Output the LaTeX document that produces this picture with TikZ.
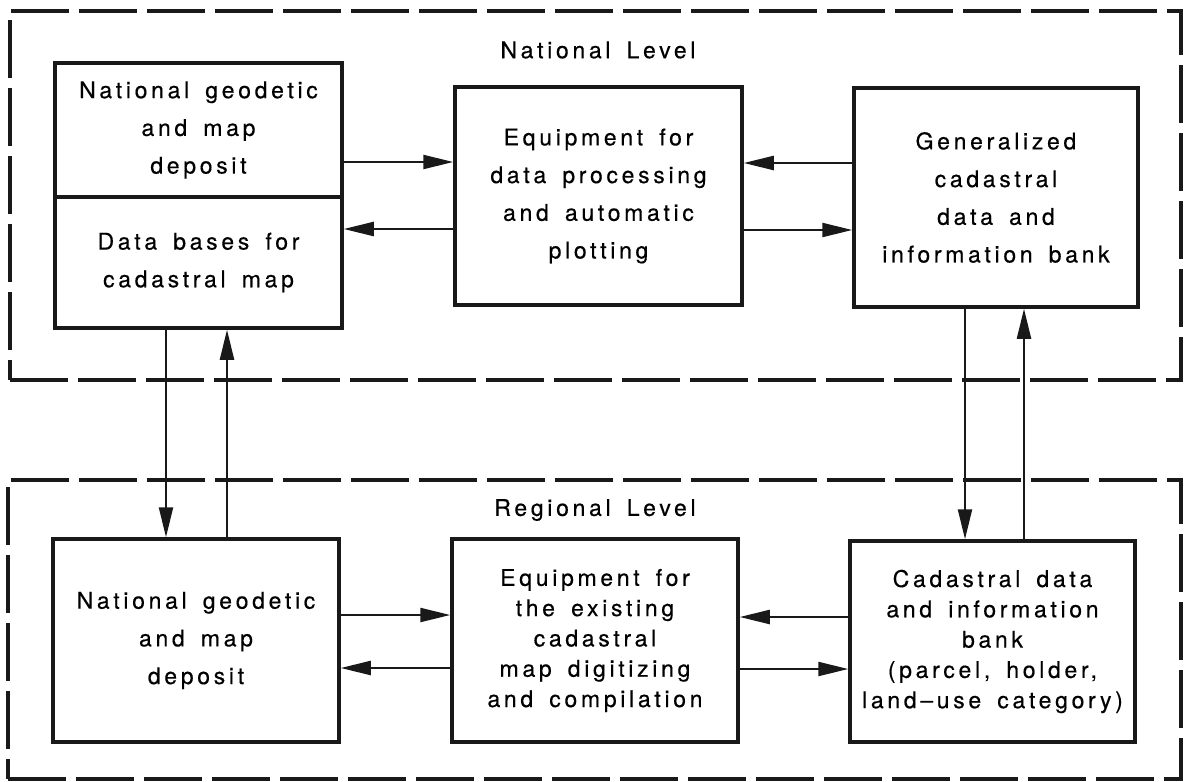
\documentclass[tikz,border=0pt]{standalone}
\usepackage{fontspec}
\usetikzlibrary{arrows.meta}
\newfontfamily\hv[LetterSpace=16, WordSpace=1.6, FakeBold=0.4]{TeX Gyre Heros}
\tikzset{
  frame/.style={draw=black!90, line width=3.5pt, dash pattern=on 58pt off 10pt, inner sep=0pt},
  box/.style={draw=black!90, line width=3.5pt, inner sep=0pt, align=center,
              font=\hv\fontsize{23}{37.7}\selectfont},
  tightbox/.style={box, font=\hv\fontsize{23}{30.3}\selectfont},
  title/.style={font=\hv\fontsize{23}{30}\selectfont, inner sep=0pt},
  arr/.style={draw=black!90, line width=2.2pt, -{Triangle[length=30pt,width=14pt]}}
}
\begin{document}
\begin{tikzpicture}[x=1pt,y=-1pt]
\useasboundingbox[fill=white] (0,0) rectangle (1187,782);
% frames
\node[frame, minimum width=1171pt, minimum height=369pt] (natFrame) at (595.5,195.5) {};
\node[frame, minimum width=1173pt, minimum height=299pt] (regFrame) at (594.5,629.5) {};
\node[title] (natTitle) at (598,50) {National Level};
\node[title] (regTitle) at (595,510) {Regional Level};
% national level boxes
\node[box, minimum width=287pt, minimum height=134pt] (natA) at (198.5,130) {National geodetic\\and map\\deposit};
\node[box, minimum width=287pt, minimum height=131pt] (natB) at (198.5,262.5) {Data bases for\\cadastral map};
\node[box, minimum width=287pt, minimum height=218pt] (equipN) at (598.5,196) {Equipment for\\data processing\\and automatic\\plotting};
\node[box, minimum width=284pt, minimum height=219pt] (genN) at (996,197.5) {Generalized\\cadastral\\data and\\information bank};
% regional level boxes
\node[box, minimum width=286pt, minimum height=203pt] (natR) at (196,640.5) {National geodetic\\and map\\deposit};
\node[tightbox, minimum width=286pt, minimum height=203pt] (equipR) at (595,640.5) {Equipment for\\the existing\\cadastral\\map digitizing\\and compilation};
\node[tightbox, minimum width=285pt, minimum height=201pt] (cadR) at (992.5,641.5) {Cadastral data\\and information\\bank\\(parcel, holder,\\land–use category)};
% national horizontal arrows
\draw[arr] ([yshift=-32pt]natA.east) -- ([yshift=-32pt]natA.east -| equipN.west);
\draw[arr] ([yshift=-33pt]equipN.west) -- ([yshift=-33pt]equipN.west -| natB.east);
\draw[arr] ([yshift=34.5pt]genN.west) -- ([yshift=34.5pt]genN.west -| equipN.east);
\draw[arr] ([yshift=-34pt]equipN.east) -- ([yshift=-34pt]equipN.east -| genN.west);
% regional horizontal arrows
\draw[arr] ([yshift=25.5pt]natR.east) -- ([yshift=25.5pt]natR.east -| equipR.west);
\draw[arr] ([yshift=-27.5pt]equipR.west) -- ([yshift=-27.5pt]equipR.west -| natR.east);
\draw[arr] ([yshift=24.5pt]cadR.west) -- ([yshift=24.5pt]cadR.west -| equipR.east);
\draw[arr] ([yshift=-28.5pt]equipR.east) -- ([yshift=-28.5pt]equipR.east -| cadR.west);
% vertical arrows
\draw[arr] ([xshift=-32.5pt]natB.south) -- ([xshift=-32.5pt]natB.south |- natR.north);
\draw[arr] ([xshift=28.5pt]natB.south |- natR.north) -- ([xshift=28.5pt]natB.south);
\draw[arr] ([xshift=-31pt]genN.south) -- ([xshift=-31pt]genN.south |- cadR.north);
\draw[arr] ([xshift=28pt]genN.south |- cadR.north) -- ([xshift=28pt]genN.south);
\end{tikzpicture}
\end{document}
